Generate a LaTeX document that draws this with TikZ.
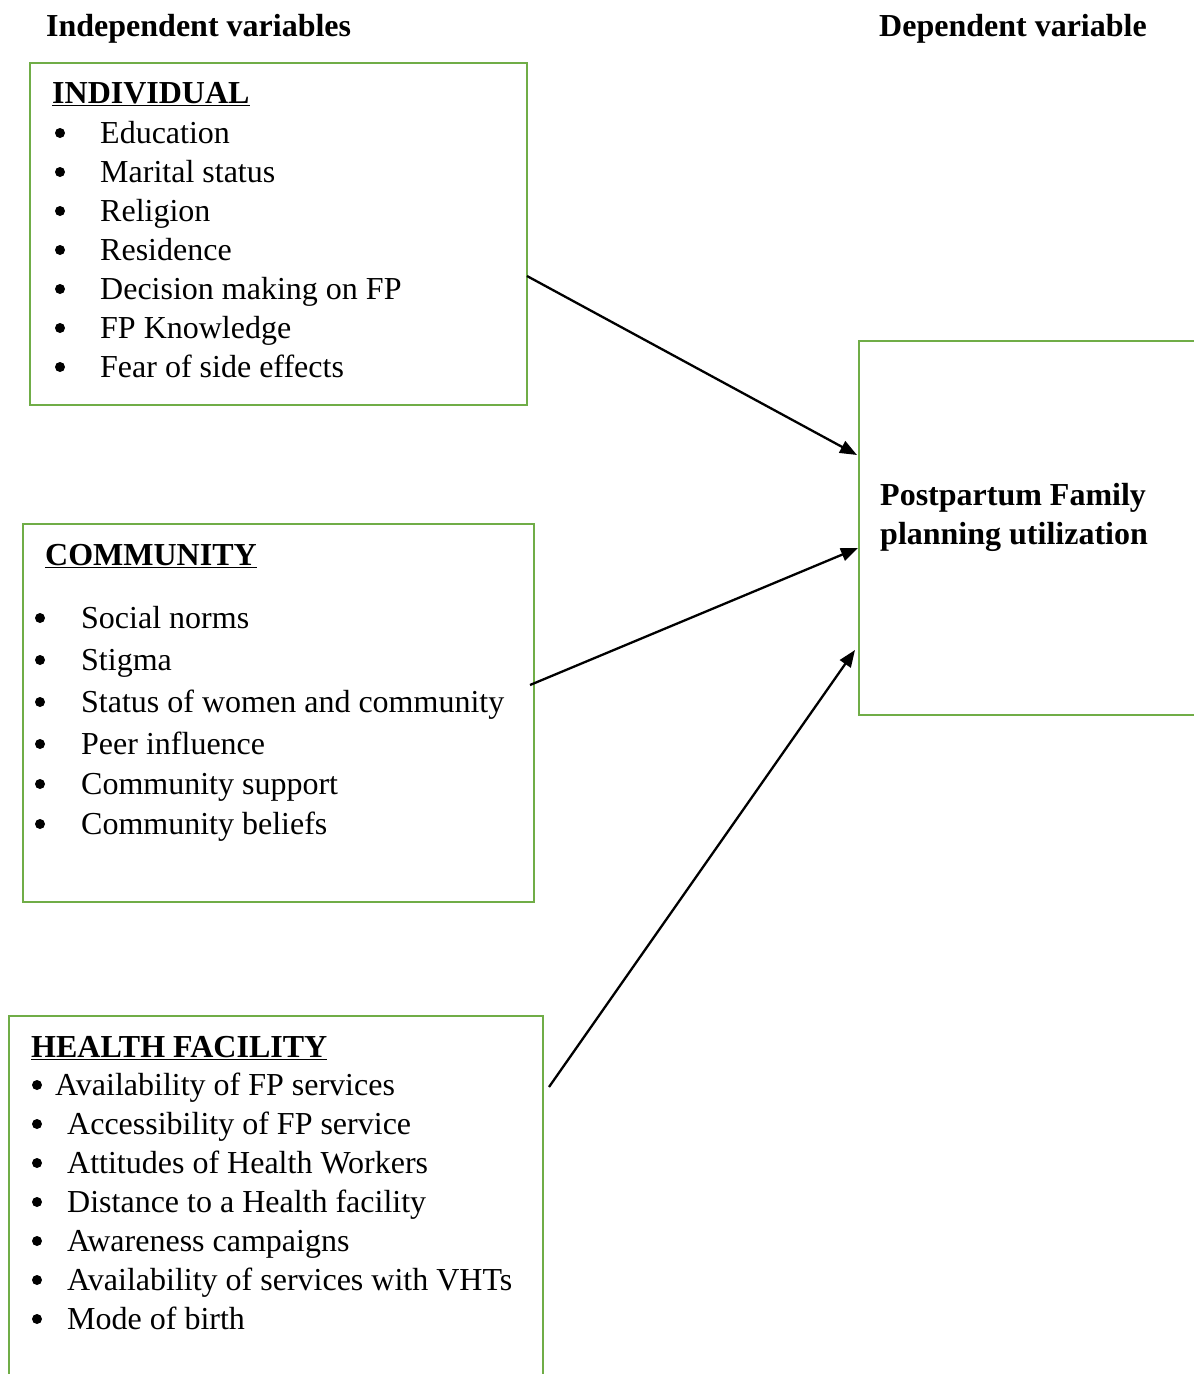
\documentclass[tikz,border=0pt]{standalone}
\usepackage{fontspec}
\setmainfont{Liberation Serif}
\usetikzlibrary{arrows.meta}
\definecolor{boxgreen}{HTML}{70AD47}
\tikzset{
  box/.style={draw=boxgreen, line width=2.8pt, rectangle, inner sep=0pt},
  txt/.style={anchor=base west, inner sep=0pt, font=\fontsize{32}{39}\selectfont},
  head/.style={txt, font=\fontsize{32}{39}\selectfont\bfseries},
  bul/.style={circle, fill=black, inner sep=0pt, minimum size=10pt},
  conn/.style={line width=2.3pt, -{Triangle[length=17pt,width=13pt]}}
}
\begin{document}
\begin{tikzpicture}[x=1pt,y=-1pt]
\useasboundingbox (0,0) rectangle (1194,1374);
% boxes
\node[box, minimum width=497pt, minimum height=342pt] (ind) at (278.5,234) {};
\node[box, minimum width=511pt, minimum height=378pt] (com) at (278.5,713) {};
\node[box, minimum width=534pt, minimum height=370pt] (hf) at (276,1201) {};
\node[box, minimum width=345pt, minimum height=374pt] (dep) at (1031.5,528) {};
% headings
\node[head] (hind) at (46,36) {Independent variables};
\node[head] (hdep) at (879,36) {Dependent variable};
% individual
\node[head] (tind) at (52,103) {\underline{INDIVIDUAL}};
\foreach \t [count=\i] in {Education,Marital status,Religion,Residence,Decision making on FP,FP Knowledge,Fear of side effects}{
  \node[bul] (bi\i) at (60,94+39*\i) {};
  \node[txt] (ti\i) at (100,104+39*\i) {\t};
}
% community
\node[head] (tcom) at (45,565) {\underline{COMMUNITY}};
\foreach \t/\y [count=\i] in {Social norms/628,Stigma/670,Status of women and community/712,Peer influence/754,Community support/794,Community beliefs/834}{
  \node[bul] (bc\i) at (40,\y-10) {};
  \node[txt] (tc\i) at (81,\y) {\t};
}
% health facility
\node[head] (thf) at (31,1057) {\underline{HEALTH FACILITY}};
\node[bul] (bh1) at (37,1085) {};
\node[txt] (th1) at (55,1095) {Availability of FP services};
\foreach \t/\y [count=\i from 2] in {Accessibility of FP service/1134,Attitudes of Health Workers/1173,Distance to a Health facility/1212,Awareness campaigns/1251,Availability of services with VHTs/1290,Mode of birth/1329}{
  \node[bul] (bh\i) at (37,\y-10) {};
  \node[txt] (th\i) at (67,\y) {\t};
}
% dependent
\node[head] (d1) at (880,505) {Postpartum Family};
\node[head] (d2) at (880,544) {planning utilization};
% connectors
\coordinate (s1) at (527,276);
\coordinate (e1) at (857,455);
\coordinate (s2) at (530,685);
\coordinate (e2) at (858,548);
\coordinate (s3) at (549,1087);
\coordinate (e3) at (855,650);
\draw[conn] (s1) -- (e1);
\draw[conn] (s2) -- (e2);
\draw[conn] (s3) -- (e3);
\end{tikzpicture}
\end{document}
